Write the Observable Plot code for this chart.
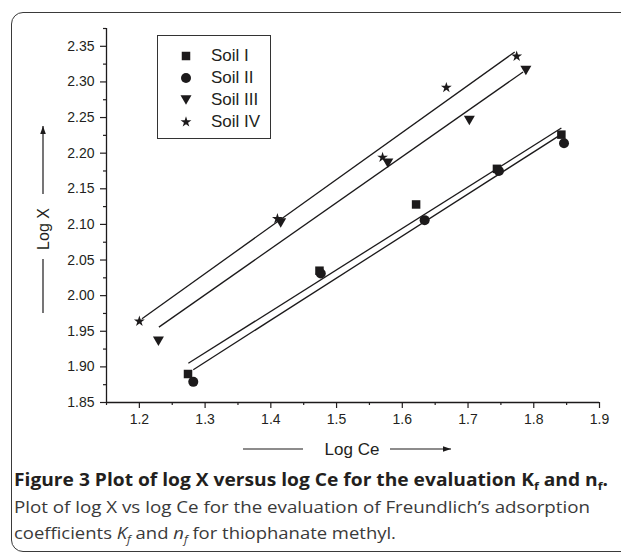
<!DOCTYPE html>
<html>
<head>
<meta charset="utf-8">
<script src="https://cdn.jsdelivr.net/npm/d3@7"></script>
<script src="https://cdn.jsdelivr.net/npm/@observablehq/plot@0.6"></script>
<style>
  html, body { margin: 0; padding: 0; background: #fff; }
  #page { position: relative; width: 621px; height: 554px; overflow: hidden; background: #fff; }
  #box { position: absolute; left: 11px; top: 12px; width: 700px; height: 538px;
         border: 1.5px solid #3a3a3a; border-radius: 12px; }
  #chart { position: absolute; left: 0; top: 0; }
  #legend { position: absolute; left: 157px; top: 35px; width: 112px; height: 102px;
            border: 1px solid #333; background: #fff; font-family: "Liberation Sans", Arial, sans-serif;
            font-size: 17px; color: #231f20; }
  .lrow { position: absolute; left: 0; height: 22px; width: 112px; }
  .lrow svg { position: absolute; left: 17px; top: 0; }
  .lrow span { position: absolute; left: 53px; top: 1px; line-height: 20px; }
  #overlay { position: absolute; left: 0; top: 0; pointer-events: none; }
</style>
</head>
<body>
<div id="page">
  <div id="box"></div>
  <div id="chart"></div>
  <div id="legend"></div>
  <svg id="overlay" width="621" height="554"></svg>
</div>
<script>
// ---- data ----
const soils = ["Soil I", "Soil II", "Soil III", "Soil IV"];
const soilI_x   = [1.274, 1.474, 1.621, 1.744, 1.842];
const soilI_y   = [1.890, 2.035, 2.128, 2.178, 2.226];
const soilII_x  = [1.282, 1.476, 1.634, 1.747, 1.846];
const soilII_y  = [1.879, 2.031, 2.106, 2.175, 2.214];
const soilIII_x = [1.229, 1.415, 1.578, 1.702, 1.788];
const soilIII_y = [1.936, 2.102, 2.186, 2.246, 2.316];
const soilIV_x  = [1.200, 1.410, 1.570, 1.667, 1.774];
const soilIV_y  = [1.964, 2.108, 2.194, 2.292, 2.336];
// fitted lines (start/end) per soil
const fitX1 = [1.2745, 1.282, 1.2297, 1.204];
const fitY1 = [1.905, 1.896, 1.9558, 1.9676];
const fitX2 = [1.842, 1.837, 1.7837, 1.771];
const fitY2 = [2.2353, 2.2236, 2.314, 2.342];
// axis ticks
const xTicks = [1.2, 1.3, 1.4, 1.5, 1.6, 1.7, 1.8, 1.9];
const xMinor = [1.15, 1.25, 1.35, 1.45, 1.55, 1.65, 1.75, 1.85];
const yTicks = [1.85, 1.90, 1.95, 2.00, 2.05, 2.10, 2.15, 2.20, 2.25, 2.30, 2.35];
const yMinor = [1.875, 1.925, 1.975, 2.025, 2.075, 2.125, 2.175, 2.225, 2.275, 2.325, 2.375];

// ---- build tables ----
const xs = [soilI_x, soilII_x, soilIII_x, soilIV_x];
const ys = [soilI_y, soilII_y, soilIII_y, soilIV_y];
const points = soils.flatMap((s, i) => xs[i].map((x, j) => ({soil: s, x, y: ys[i][j]})));
const fits = soils.map((s, i) => ({soil: s, x1: fitX1[i], y1: fitY1[i], x2: fitX2[i], y2: fitY2[i]}));

const triangleDown = {
  draw(context, size) {
    const r = Math.sqrt(size / Math.PI);
    const hw = r * 1.1, hh = r * 0.95;
    context.moveTo(-hw, -hh);
    context.lineTo(hw, -hh);
    context.lineTo(0, hh);
    context.closePath();
  }
};
const symbols = [d3.symbolSquare, d3.symbolCircle, triangleDown, d3.symbolStar];
const radii = [4.8, 5, 5, 3.4];
const ink = "#1c1a1b";

const chart = Plot.plot({
  width: 621,
  height: 430,
  marginLeft: 106,
  marginRight: 22,
  marginTop: 28,
  marginBottom: 28,
  style: {fontFamily: "'Liberation Sans', Arial, sans-serif", fontSize: "14px", color: "#231f20", background: "transparent", overflow: "visible"},
  x: {domain: [1.15, 1.9]},
  y: {domain: [1.85, 2.375]},
  marks: [
    Plot.axisX({ticks: xTicks, tickSize: 6, tickPadding: 6, tickFormat: d3.format(".1f"), label: null, strokeWidth: 1.2, fontSize: 14}),
    Plot.axisX({ticks: xMinor, tickSize: 3, tickFormat: () => "", label: null, strokeWidth: 1.2}),
    Plot.axisY({ticks: yTicks, tickSize: 6, tickPadding: 6, tickFormat: d3.format(".2f"), label: null, strokeWidth: 1.2, fontSize: 14}),
    Plot.axisY({ticks: yMinor, tickSize: 3, tickFormat: () => "", label: null, strokeWidth: 1.2}),
    Plot.ruleY([1.85], {stroke: ink, strokeWidth: 1.3}),
    Plot.ruleX([1.15], {stroke: ink, strokeWidth: 1.3}),
    Plot.link(fits, {x1: "x1", y1: "y1", x2: "x2", y2: "y2", stroke: ink, strokeWidth: 1.3}),
    ...soils.map((s, i) => Plot.dot(points.filter(d => d.soil === s), {
      x: "x", y: "y", symbol: symbols[i], r: radii[i], fill: ink, stroke: "none"
    }))
  ]
});
document.getElementById("chart").appendChild(chart);

// ---- legend ----
const legend = d3.select("#legend");
soils.forEach((s, i) => {
  const row = legend.append("div").attr("class", "lrow").style("top", (9 + i * 22) + "px");
  const svg = row.append("svg").attr("width", 22).attr("height", 22);
  svg.append("path")
    .attr("transform", "translate(11,11)")
    .attr("d", d3.symbol(symbols[i], Math.PI * radii[i] * radii[i])())
    .attr("fill", ink);
  row.append("span").text(s);
});

// ---- axis titles and caption ----
const ov = d3.select("#overlay");
const defs = ov.append("defs");
defs.append("marker").attr("id", "arrow").attr("viewBox", "0 0 10 10")
  .attr("refX", 10).attr("refY", 5).attr("markerWidth", 8).attr("markerHeight", 8)
  .attr("markerUnits", "userSpaceOnUse").attr("orient", "auto")
  .append("path").attr("d", "M0,1.5 L10,5 L0,8.5 Z").attr("fill", ink);

// y title
ov.append("line").attr("x1", 43).attr("y1", 313).attr("x2", 43).attr("y2", 259).attr("stroke", ink).attr("stroke-width", 1.2);
ov.append("line").attr("x1", 43).attr("y1", 194).attr("x2", 43).attr("y2", 126).attr("stroke", ink).attr("stroke-width", 1.2).attr("marker-end", "url(#arrow)");
ov.append("text").attr("transform", "translate(49,229) rotate(-90)").attr("text-anchor", "middle")
  .attr("font-family", "'Liberation Sans', Arial, sans-serif").attr("font-size", 16).attr("fill", "#231f20").text("Log X");
// x title
ov.append("line").attr("x1", 243).attr("y1", 449).attr("x2", 303).attr("y2", 449).attr("stroke", ink).attr("stroke-width", 1.2);
ov.append("line").attr("x1", 390).attr("y1", 449).attr("x2", 451).attr("y2", 449).attr("stroke", ink).attr("stroke-width", 1.2).attr("marker-end", "url(#arrow)");
ov.append("text").attr("x", 352).attr("y", 455).attr("text-anchor", "middle")
  .attr("font-family", "'Liberation Sans', Arial, sans-serif").attr("font-size", 17).attr("fill", "#231f20").text("Log Ce");

// caption
const capFont = "'Open Sans', 'Noto Sans', sans-serif";
const t1 = ov.append("text").attr("x", 14).attr("y", 486).attr("font-family", capFont).attr("font-size", 17)
  .attr("font-weight", 700).attr("fill", "#231f20").attr("textLength", 594).attr("lengthAdjust", "spacingAndGlyphs");
t1.append("tspan").text("Figure 3 Plot of log X versus log Ce for the evaluation K");
t1.append("tspan").attr("dy", 4).attr("font-size", 11).text("f");
t1.append("tspan").attr("dy", -4).text(" and n");
t1.append("tspan").attr("dy", 4).attr("font-size", 11).text("f");
t1.append("tspan").attr("dy", -4).text(".");

ov.append("text").attr("x", 14).attr("y", 513).attr("font-family", capFont).attr("font-size", 17)
  .attr("fill", "#3a3a3a").attr("textLength", 576).attr("lengthAdjust", "spacingAndGlyphs")
  .text("Plot of log X vs log Ce for the evaluation of Freundlich\u2019s adsorption");

const t3 = ov.append("text").attr("x", 14).attr("y", 539).attr("font-family", capFont).attr("font-size", 17)
  .attr("fill", "#3a3a3a").attr("textLength", 382).attr("lengthAdjust", "spacingAndGlyphs");
t3.append("tspan").text("coefficients ");
t3.append("tspan").attr("font-style", "italic").text("K");
t3.append("tspan").attr("dy", 4).attr("font-size", 11).attr("font-style", "italic").text("f");
t3.append("tspan").attr("dy", -4).text(" and ");
t3.append("tspan").attr("font-style", "italic").text("n");
t3.append("tspan").attr("dy", 4).attr("font-size", 11).attr("font-style", "italic").text("f");
t3.append("tspan").attr("dy", -4).text(" for thiophanate methyl.");
</script>
</body>
</html>
